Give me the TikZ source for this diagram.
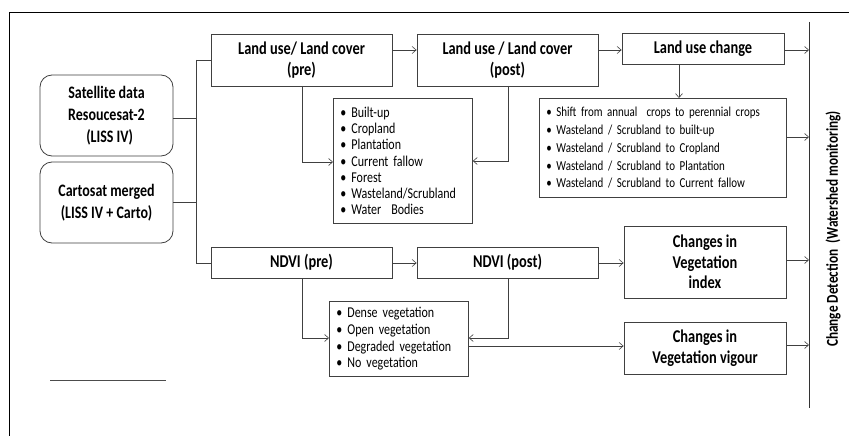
\documentclass[tikz,border=0pt]{standalone}
\usepackage{fontspec}
\setmainfont{Carlito}[FakeStretch=0.8]
\usetikzlibrary{arrows.meta}
\begin{document}
\begin{tikzpicture}[x=1pt,y=-1pt,
  line width=0.7pt, draw=black!75,
  arr/.style={-{Straight Barb[length=4pt,width=7pt]}, draw=black!75, line width=0.6pt},
  hbox/.style={draw=black!75, line width=0.8pt, font=\fontsize{18}{21.5}\selectfont\bfseries, align=center, inner sep=0pt},
  lbox/.style={draw=black!75, line width=0.8pt, align=left, inner sep=0pt, anchor=north west},
  rbox/.style={draw=black!75, line width=0.8pt, rounded corners=12pt, font=\fontsize{17.5}{21.7}\selectfont\bfseries, align=center, inner sep=0pt}]
\useasboundingbox (0,0) rectangle (849,436);
\fill[white] (0,0) rectangle (849,436);
% frame
\draw[black, line width=1pt] (9,436) -- (9,13) -- (849,13);
% source boxes
\node[rbox, minimum width=133pt, minimum height=81pt] (sat) at (106.5,115.5) {Satellite data\\Resoucesat-2\\\ \ (LISS IV)};
\node[rbox, minimum width=133pt, minimum height=81pt] (carto) at (106.5,202.5) {Cartosat merged\\(LISS IV + Carto)};
% headers
\node[hbox, minimum width=181pt, minimum height=52pt] (lpre) at (301.5,60) {Land use/ Land cover\\(pre)};
\node[hbox, minimum width=181pt, minimum height=52pt] (lpost) at (507.5,60) {Land use / Land cover\\(post)};
\node[hbox, minimum width=162pt, minimum height=31pt] (lchg) at (703,48.5) {Land use change};
\node[hbox, minimum width=181pt, minimum height=31pt] (npre) at (301.5,262.5) {NDVI (pre)};
\node[hbox, minimum width=181pt, minimum height=31pt] (npost) at (507.5,262.5) {NDVI (post)};
\node[hbox, minimum width=162pt, minimum height=72pt, font=\fontsize{18}{20.7}\selectfont\bfseries] (vidx) at (705,262) {Changes in\\Vegetation\\index};
\node[hbox, minimum width=162pt, minimum height=52pt, font=\fontsize{18}{20.7}\selectfont\bfseries] (vvig) at (705,348) {Changes in\\Vegetation vigour};
% list boxes
\node[lbox, minimum width=139pt, minimum height=125pt, font=\fontsize{15}{16.3}\selectfont, text width=125pt, inner xsep=7pt, inner ysep=5pt] (l1) at (333,98)
 {\textbullet\ Built-up\\\textbullet\ Cropland\\\textbullet\ Plantation\\\textbullet\ Current fallow\\\textbullet\ Forest\\\textbullet\ Wasteland/Scrubland\\\textbullet\ Water\ \ Bodies};
\node[lbox, minimum width=247pt, minimum height=99pt, font=\fontsize{13.7}{17.8}\selectfont, text width=233pt, inner xsep=7pt, inner ysep=6pt] (l2) at (539,98)
 {\textbullet\ Shift from annual\ \ crops to perennial crops\\\textbullet\ Wasteland / Scrubland to built-up\\\textbullet\ Wasteland / Scrubland to Cropland\\\textbullet\ Wasteland / Scrubland to Plantation\\\textbullet\ Wasteland / Scrubland to Current fallow};
\node[lbox, minimum width=139pt, minimum height=75pt, font=\fontsize{15}{16.6}\selectfont, text width=125pt, inner xsep=7pt, inner ysep=3pt] (l3) at (329,301)
 {\textbullet\ Dense vegetation\\\textbullet\ Open vegetation\\\textbullet\ Degraded vegetation\\\textbullet\ No vegetation};
% right bar
\coordinate (rt) at (809,22);
\coordinate (rb) at (809,408);
\draw[black!80, line width=0.8pt] (rt) -- (rb);
\node[rotate=90, font=\fontsize{16.6}{20}\selectfont\bfseries] (cd) at (833,229) {Change Detection\ \ (Watershed monitoring)};
% left trunk
\coordinate (tt) at (196,60);
\coordinate (tb) at (196,263);
\draw (tt) -- (tb);
\draw (sat.east |- 0,118) -- (196,118);
\draw (carto.east |- 0,202) -- (196,202);
\draw (tt) -- (lpre.west |- tt);
\draw (tb) -- (npre.west |- tb);
% arrows top row
\draw[arr] (lpre.east |- 0,50) -- (lpost.west |- 0,50);
\draw[arr] (lpost.east |- 0,50) -- (lchg.west |- 0,50);
\draw[arr] (lchg.east |- 0,50) -- (rt |- 0,50);
\draw[arr] (679,64) -- (679,98);
\draw[arr] (l2.east |- 0,137) -- (rt |- 0,137);
\draw[arr] (302,86) |- (l1.west |- 0,162);
\draw[arr] (508,86) |- (l1.east |- 0,161);
% arrows bottom
\draw[arr] (npre.east |- 0,263) -- (npost.west |- 0,263);
\draw[arr] (npost.east |- 0,263) -- (vidx.west |- 0,263);
\draw[arr] (vidx.east |- 0,260) -- (rt |- 0,260);
\draw[arr] (302,278) |- (l3.west |- 0,338);
\draw[arr] (508,278) |- (l3.east |- 0,338);
\draw[arr] (l3.east |- 0,346) -- (vvig.west |- 0,346);
\draw[arr] (vvig.east |- 0,345) -- (rt |- 0,345);
% stray line
\coordinate (sl) at (50,380);
\coordinate (sr) at (166,380);
\draw[black!70] (sl) -- (sr);
\end{tikzpicture}
\end{document}
